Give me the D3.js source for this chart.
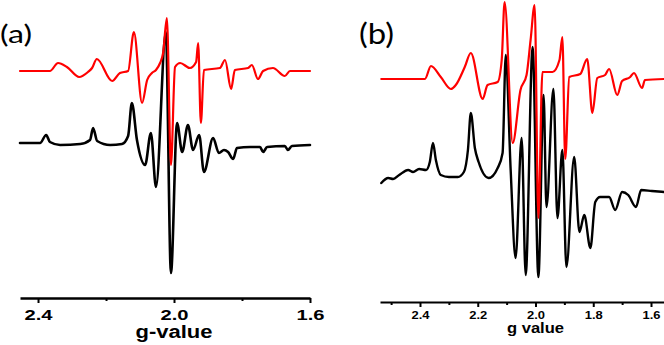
<!DOCTYPE html>
<html>
<head>
<meta charset="utf-8">
<script src="https://cdn.jsdelivr.net/npm/d3@7"></script>
<style>
  body { margin: 0; background: #fff; }
  .spectrum { fill: none; stroke-linejoin: round; stroke-linecap: round; }
  .axis text { font-family: "Liberation Sans", Arial, sans-serif; font-weight: bold; fill: #000; }
  .axis path, .axis line { stroke: #000; }
  .axis-title { font-family: "Liberation Sans", Arial, sans-serif; font-weight: bold; fill: #000; }
  .panel-label { font-family: Lato, "Open Sans", sans-serif; fill: #000; }
</style>
</head>
<body>
<div id="chart"></div>
<script>
// EPR spectra: simulated (red) stacked over experimental (black), x = g-value
const panelLabels = ["(a)", "(b)"];
const axisTitles = ["g-value", "g value"];

const ticksMajorA = [2.4, 2.0, 1.6];
const ticksMinorA = [2.2, 1.8];
const ticksMajorB = [2.4, 2.2, 2.0, 1.8, 1.6];
const ticksMinorB = [2.5, 2.3, 2.1, 1.9, 1.7];

// [g, intensity a.u.]
const simA = [
  [2.453, 0], [2.365, 0], [2.341, 0.08], [2.315, 0.04], [2.279, -0.06], [2.253, -0.01],
  [2.241, 0.03], [2.227, 0.12], [2.182, -0.10], [2.159, -0.02], [2.135, 0.0], [2.118, 0.39],
  [2.094, -0.32], [2.079, -0.09], [2.065, -0.02], [2.053, 0.01], [2.041, 0.08], [2.032, 0.18],
  [2.021, 0.53], [2.009, -0.94], [1.997, 0.04], [1.982, 0.08], [1.953, 0.03], [1.935, 0.09],
  [1.929, 0.28], [1.921, -0.52], [1.912, 0.01], [1.865, 0.03], [1.850, 0.11], [1.832, -0.18],
  [1.821, 0.01], [1.782, 0.03], [1.771, 0.06], [1.753, -0.08], [1.738, 0], [1.709, 0.03],
  [1.674, -0.05], [1.659, 0], [1.600, 0]
];

const expA = [
  [2.453, 0], [2.394, 0], [2.376, 0.08], [2.365, 0.01], [2.335, -0.02], [2.276, -0.01],
  [2.247, 0.03], [2.238, 0.15], [2.226, 0.02], [2.188, -0.02], [2.153, -0.01], [2.135, 0.07],
  [2.124, 0.40], [2.109, 0.03], [2.085, -0.22], [2.068, 0.10], [2.053, -0.44], [2.024, 1.11],
  [2.009, -1.30], [1.991, 0.20], [1.976, -0.09], [1.959, 0.18], [1.944, -0.07], [1.926, 0.08],
  [1.912, -0.29], [1.885, 0.05], [1.868, -0.10], [1.853, -0.07], [1.841, -0.09], [1.826, -0.16],
  [1.815, -0.05], [1.776, -0.04], [1.747, -0.04], [1.738, -0.09], [1.726, -0.04], [1.674, -0.03],
  [1.665, -0.07], [1.653, -0.03], [1.600, -0.02]
];

const simB = [
  [2.534, 0], [2.383, 0], [2.362, 0.13], [2.328, 0.02], [2.293, -0.10], [2.276, -0.06],
  [2.245, 0.12], [2.224, 0.26], [2.183, -0.20], [2.166, -0.06], [2.131, -0.03], [2.117, 0.19],
  [2.107, 0.77], [2.079, -0.64], [2.052, -0.11], [2.031, 0.04], [2.017, 0.39], [2.003, 0.74],
  [1.990, -1.39], [1.976, 0.07], [1.941, 0.07], [1.917, 0.19], [1.907, 0.42], [1.897, -0.80],
  [1.883, 0.02], [1.845, 0.05], [1.821, 0.20], [1.803, -0.34], [1.786, 0.01], [1.759, 0.04],
  [1.745, 0.10], [1.717, -0.16], [1.700, -0.02], [1.672, 0.02], [1.659, 0.06], [1.631, -0.09],
  [1.621, -0.01], [1.555, 0]
];

const expB = [
  [2.534, -0.03], [2.510, 0.02], [2.493, 0.01], [2.472, 0.05], [2.441, 0.10], [2.424, 0.08],
  [2.403, 0.11], [2.379, 0.10], [2.366, 0.18], [2.355, 0.37], [2.345, 0.20], [2.328, 0.05],
  [2.300, 0.03], [2.269, 0.03], [2.248, 0.08], [2.234, 0.30], [2.224, 0.67], [2.210, 0.32],
  [2.197, 0.18], [2.162, 0.02], [2.131, 0.12], [2.114, 0.27], [2.103, 1.25], [2.086, 0.10],
  [2.069, -0.78], [2.048, 0.42], [2.034, -0.95], [2.010, 1.33], [1.990, -0.97], [1.972, 0.85],
  [1.962, -0.27], [1.938, 0.91], [1.924, -0.38], [1.907, 0.30], [1.893, -0.87], [1.866, 0.23],
  [1.848, -0.52], [1.831, -0.35], [1.810, -0.68], [1.793, -0.22], [1.776, -0.17], [1.745, -0.17],
  [1.724, -0.30], [1.700, -0.12], [1.679, -0.15], [1.652, -0.27], [1.634, -0.10], [1.597, -0.11],
  [1.555, -0.12]
];

(function() {
  const width = 664, height = 345;

  const svg = d3.select("#chart")
    .append("svg")
    .attr("width", width)
    .attr("height", height);

  const panels = [
    {
      sim: simA, exp: expA, label: panelLabels[0], title: axisTitles[0],
      major: ticksMajorA, minor: ticksMinorA,
      gDomain: [2.453, 1.6], xRange: [20, 310],
      zeroY: 71, expOffset: -0.72, axisY: 298, axisWidth: 2.5,
      tickFont: 15, tickTextY: 11, tickTextLen: 28,
      titleFont: 18, titleY: 338, titleLen: 77,
      labelX: 0, labelY: 43, labelFont: 25, labelLen: 32,
      expWidth: 2.6
    },
    {
      sim: simB, exp: expB, label: panelLabels[1], title: axisTitles[1],
      major: ticksMajorB, minor: ticksMinorB,
      gDomain: [2.5385, 1.555], xRange: [380, 664],
      zeroY: 79, expOffset: -1.01, axisY: 302, axisWidth: 2,
      tickFont: 11, tickTextY: 9, tickTextLen: 18,
      titleFont: 14, titleY: 333, titleLen: 57,
      labelX: 359, labelY: 44, labelFont: 28, labelLen: 35,
      expWidth: 2.4
    }
  ];

  panels.forEach(p => {
    const x = d3.scaleLinear().domain(p.gDomain).range(p.xRange);
    // 100 px per intensity unit, zero at the simulated baseline
    const y = d3.scaleLinear().domain([0, 1]).range([p.zeroY, p.zeroY - 100]);

    const line = offset => d3.line()
      .x(d => x(d[0]))
      .y(d => y(d[1] + offset))
      .curve(d3.curveMonotoneX);

    svg.append("path")
      .datum(p.exp)
      .attr("class", "spectrum")
      .attr("stroke", "#000")
      .attr("stroke-width", p.expWidth)
      .attr("d", line(p.expOffset));

    svg.append("path")
      .datum(p.sim)
      .attr("class", "spectrum")
      .attr("stroke", "#f00")
      .attr("stroke-width", 2.2)
      .attr("d", line(0));

    const axis = svg.append("g")
      .attr("class", "axis")
      .attr("transform", `translate(0,${p.axisY})`)
      .call(d3.axisBottom(x)
        .tickValues(p.major)
        .tickSize(5)
        .tickSizeOuter(0)
        .tickFormat(d3.format(".1f")));

    axis.select(".domain").attr("stroke-width", p.axisWidth);
    axis.selectAll(".tick line").attr("stroke-width", 2);
    axis.selectAll(".tick text")
      .attr("y", p.tickTextY)
      .attr("font-size", p.tickFont)
      .attr("textLength", p.tickTextLen)
      .attr("lengthAdjust", "spacingAndGlyphs");

    const minor = svg.append("g")
      .attr("class", "axis")
      .attr("transform", `translate(0,${p.axisY})`)
      .call(d3.axisBottom(x)
        .tickValues(p.minor)
        .tickSize(3)
        .tickSizeOuter(0)
        .tickFormat(""));
    minor.select(".domain").remove();
    minor.selectAll(".tick line").attr("stroke-width", 2);

    svg.append("text")
      .attr("class", "axis-title")
      .attr("x", x(2.0))
      .attr("y", p.titleY)
      .attr("text-anchor", "middle")
      .attr("font-size", p.titleFont)
      .attr("textLength", p.titleLen)
      .attr("lengthAdjust", "spacingAndGlyphs")
      .text(p.title);

    svg.append("text")
      .attr("class", "panel-label")
      .attr("x", p.labelX)
      .attr("y", p.labelY)
      .attr("font-size", p.labelFont)
      .attr("textLength", p.labelLen)
      .attr("lengthAdjust", "spacingAndGlyphs")
      .text(p.label);
  });
})();
</script>
</body>
</html>
